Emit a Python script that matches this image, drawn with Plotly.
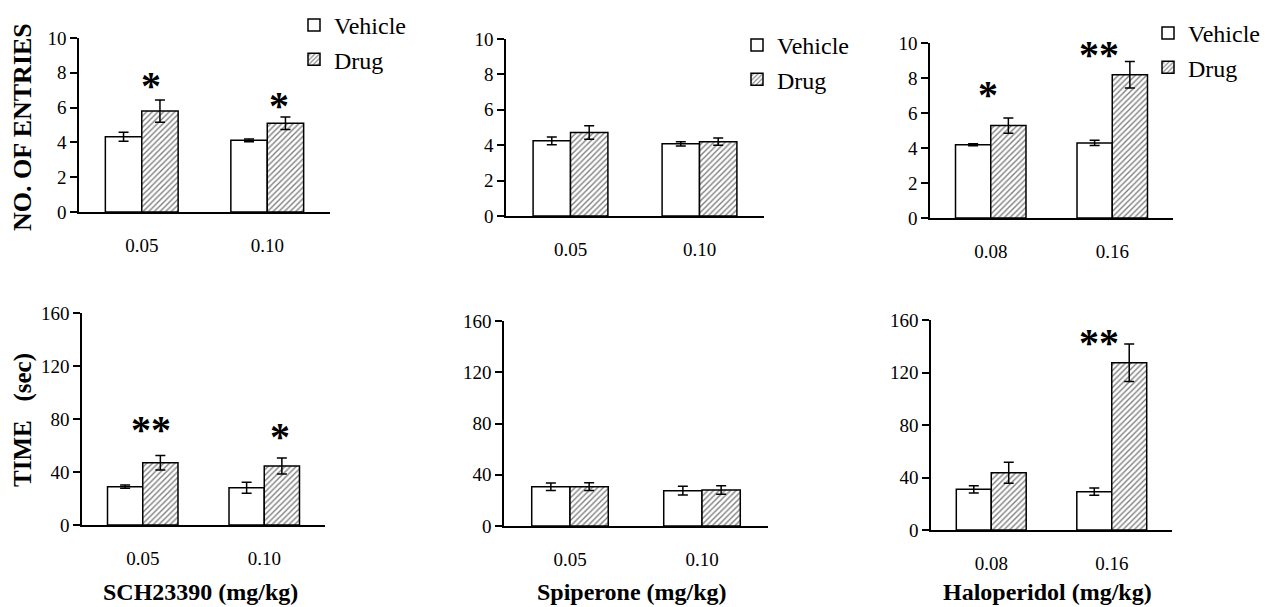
import plotly.graph_objects as go

W, H = 1265, 607

# ---------------- data ----------------
sch_doses = ["0.05", "0.10"]
spi_doses = ["0.05", "0.10"]
hal_doses = ["0.08", "0.16"]

# Number of entries
sch_entries_vehicle = [4.33, 4.12]
sch_entries_vehicle_err = [0.26, 0.08]
sch_entries_drug = [5.80, 5.10]
sch_entries_drug_err = [0.64, 0.36]

spi_entries_vehicle = [4.25, 4.08]
spi_entries_vehicle_err = [0.22, 0.12]
spi_entries_drug = [4.72, 4.20]
spi_entries_drug_err = [0.38, 0.20]

hal_entries_vehicle = [4.19, 4.29]
hal_entries_vehicle_err = [0.06, 0.15]
hal_entries_drug = [5.28, 8.19]
hal_entries_drug_err = [0.43, 0.76]

# Time (sec)
sch_time_vehicle = [28.9, 28.1]
sch_time_vehicle_err = [1.2, 4.2]
sch_time_drug = [47.0, 44.5]
sch_time_drug_err = [5.4, 6.0]

spi_time_vehicle = [30.7, 27.6]
spi_time_vehicle_err = [2.9, 3.5]
spi_time_drug = [30.7, 28.1]
spi_time_drug_err = [3.0, 3.3]

hal_time_vehicle = [31.0, 29.2]
hal_time_vehicle_err = [2.8, 2.8]
hal_time_drug = [43.7, 127.4]
hal_time_drug_err = [8.0, 14.3]

series_names = ["Vehicle", "Drug"]
drug_titles = ["SCH23390 (mg/kg)", "Spiperone (mg/kg)", "Haloperidol (mg/kg)"]
y_titles = ["NO. OF ENTRIES", "TIME\u00a0\u00a0\u00a0(sec)"]

# significance marks: panel, category-index position, y value, label
star_panels = [1, 1, 3, 3, 4, 4, 6]
star_x = [0.07, 1.09, -0.02, 0.89, 0.07, 1.13, 0.89]
star_y = [7.47, 6.32, 7.22, 9.5, 74.7, 69.4, 144.8]
star_text = ["*", "*", "*", "**", "**", "*", "**"]

# ---------------- layout ----------------
FONT = "Liberation Serif"

panels = [
    dict(doses=sch_doses, veh=sch_entries_vehicle, veh_err=sch_entries_vehicle_err,
         drug=sch_entries_drug, drug_err=sch_entries_drug_err, box=(79, 330, 38, 212),
         yr=[0, 10], dt=2, legend="legend"),
    dict(doses=spi_doses, veh=spi_entries_vehicle, veh_err=spi_entries_vehicle_err,
         drug=spi_entries_drug, drug_err=spi_entries_drug_err, box=(506, 764, 39, 216),
         yr=[0, 10], dt=2, legend="legend2"),
    dict(doses=hal_doses, veh=hal_entries_vehicle, veh_err=hal_entries_vehicle_err,
         drug=hal_entries_drug, drug_err=hal_entries_drug_err, box=(930, 1173, 43, 218),
         yr=[0, 10], dt=2, legend="legend3"),
    dict(doses=sch_doses, veh=sch_time_vehicle, veh_err=sch_time_vehicle_err,
         drug=sch_time_drug, drug_err=sch_time_drug_err, box=(82, 325, 313, 525),
         yr=[0, 160], dt=40, legend=None),
    dict(doses=spi_doses, veh=spi_time_vehicle, veh_err=spi_time_vehicle_err,
         drug=spi_time_drug, drug_err=spi_time_drug_err, box=(504, 768, 321, 526),
         yr=[0, 160], dt=40, legend=None),
    dict(doses=hal_doses, veh=hal_time_vehicle, veh_err=hal_time_vehicle_err,
         drug=hal_time_drug, drug_err=hal_time_drug_err, box=(931, 1172, 320, 530),
         yr=[0, 160], dt=40, legend=None),
]

fig = go.Figure()
layout = dict(
    width=W, height=H,
    margin=dict(l=0, r=0, t=0, b=0, autoexpand=False),
    paper_bgcolor="white", plot_bgcolor="white",
    barmode="group", bargap=0.42, bargroupgap=0,
    font=dict(family=FONT, color="black", size=19),
    annotations=[],
)

for i, p in enumerate(panels, start=1):
    xa = "x" if i == 1 else f"x{i}"
    ya = "y" if i == 1 else f"y{i}"
    x0, x1, ytop, ybot = p["box"]
    show = p["legend"] is not None
    common = dict(xaxis=xa, yaxis=ya, showlegend=show)
    if show:
        common["legend"] = p["legend"]
    fig.add_trace(go.Bar(
        x=p["doses"], y=p["veh"], name=series_names[0],
        marker=dict(color="white", line=dict(color="black", width=1.5)),
        error_y=dict(type="data", array=p["veh_err"], color="black", thickness=1.5, width=5),
        **common))
    fig.add_trace(go.Bar(
        x=p["doses"], y=p["drug"], name=series_names[1],
        marker=dict(color="white", line=dict(color="black", width=1.5),
                    pattern=dict(shape="/", fgcolor="black", bgcolor="white", size=4, solidity=0.35)),
        error_y=dict(type="data", array=p["drug_err"], color="black", thickness=1.5, width=5),
        **common))
    xkey = "xaxis" if i == 1 else f"xaxis{i}"
    ykey = "yaxis" if i == 1 else f"yaxis{i}"
    layout[xkey] = dict(
        domain=[x0 / W, x1 / W], anchor=ya, type="category", range=[-0.5, 1.5],
        showline=True, linecolor="black", linewidth=1.5, ticks="", showgrid=False,
        zeroline=False, tickfont=dict(family=FONT, size=19, color="black"),
        ticklabelstandoff=15, fixedrange=True, automargin=False)
    layout[ykey] = dict(
        domain=[1 - ybot / H, 1 - ytop / H], anchor=xa, range=p["yr"], dtick=p["dt"],
        showline=True, linecolor="black", linewidth=1.5, ticks="outside", ticklen=7,
        tickwidth=1.5, tickcolor="black", showgrid=False, zeroline=False,
        tickfont=dict(family=FONT, size=19, color="black"), fixedrange=True,
        automargin=False)

legend_style = dict(font=dict(family=FONT, size=24, color="black"), bgcolor="rgba(0,0,0,0)",
                    yanchor="top", tracegroupgap=0, itemwidth=30,
                    traceorder="normal")
layout["legend"] = dict(x=294 / W, xanchor="left", y=1 - 3 / H, **legend_style)
layout["legend2"] = dict(x=737 / W, xanchor="left", y=1 - 23 / H, **legend_style)
layout["legend3"] = dict(x=1.0, xanchor="right", y=1 - 11 / H, **legend_style)

# y-axis titles
layout["annotations"].append(dict(
    text=f"<b>{y_titles[0]}</b>", xref="paper", yref="paper", x=23 / W, y=1 - 127 / H,
    textangle=-90, showarrow=False, font=dict(family=FONT, size=26, color="black"),
    xanchor="center", yanchor="middle"))
layout["annotations"].append(dict(
    text=f"<b>{y_titles[1]}</b>", xref="paper", yref="paper", x=23 / W, y=1 - 420 / H,
    textangle=-90, showarrow=False, font=dict(family=FONT, size=25, color="black"),
    xanchor="center", yanchor="middle"))

# x-axis (drug) titles
for cx, t in zip([200, 632, 1047], drug_titles):
    layout["annotations"].append(dict(
        text=f"<b>{t}</b>", xref="paper", yref="paper", x=cx / W, y=1 - 592 / H,
        showarrow=False, font=dict(family=FONT, size=24, color="black"),
        xanchor="center", yanchor="middle"))

# significance asterisks
for pn, sx, sy, st in zip(star_panels, star_x, star_y, star_text):
    xr = "x" if pn == 1 else f"x{pn}"
    yr = "y" if pn == 1 else f"y{pn}"
    layout["annotations"].append(dict(
        text=f"<b>{st}</b>", xref=xr, yref=yr, x=sx, y=sy, showarrow=False,
        font=dict(family=FONT, size=40, color="black"),
        xanchor="center", yanchor="middle", yshift=-3))

fig.update_layout(**layout)
fig.write_html(
    "out.html",
    config=dict(displayModeBar=False),
    post_script="document.body.style.margin='0';document.body.style.overflow='hidden';",
)
